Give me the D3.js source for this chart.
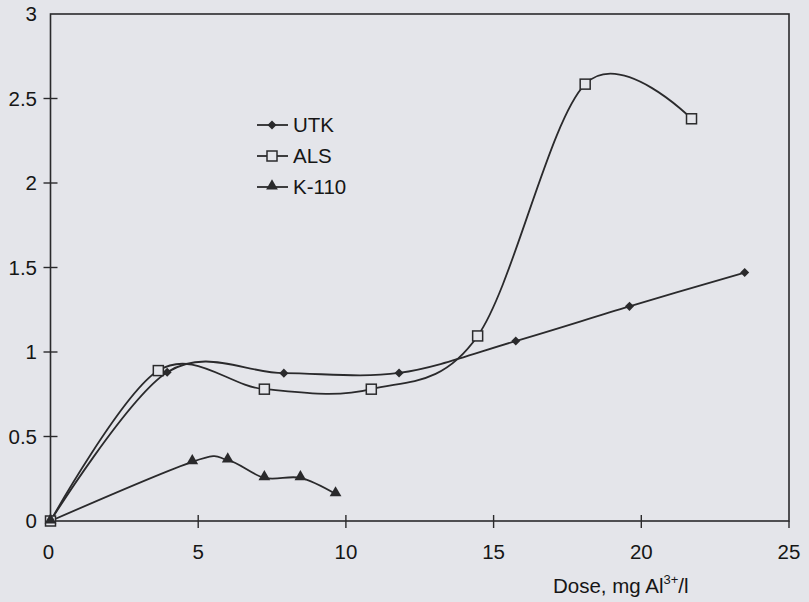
<!DOCTYPE html>
<html>
    <head>
        <meta charset="utf-8">
        <title>Dose chart</title>
        <script src="https://d3js.org/d3.v7.min.js"></script>
        <style>
            body {
                margin: 0;
                background-color: #e4e5ea;
            }
            text {
                font-family: "Liberation Sans", Arial, sans-serif;
                fill: #161616;
            }
        </style>
    </head>
    <body>
        <svg id="chart" width="809" height="602"></svg>

        <script>
            // values
            let utkDose = [0, 3.95, 7.9, 11.8, 15.75, 19.6, 23.5]
            let utkValue = [0, 0.88, 0.875, 0.876, 1.065, 1.27, 1.47]

            let alsDose = [0, 3.65, 7.24, 10.86, 14.46, 18.1, 21.7]
            let alsValue = [0, 0.89, 0.78, 0.78, 1.095, 2.585, 2.38]

            let k110Dose = [0, 4.8, 6.0, 7.24, 8.46, 9.65]
            let k110Value = [0, 0.35, 0.36, 0.255, 0.255, 0.16]

            let xTicks = [0, 5, 10, 15, 20, 25]
            let yTicks = [0, 0.5, 1, 1.5, 2, 2.5, 3]
            let seriesNames = ["UTK", "ALS", "K-110"]

            let ink = "#2a2a2c"
            let svg = d3.select("#chart")

            let x = d3.scaleLinear().domain([0, 25]).range([50.5, 789])
            let y = d3.scaleLinear().domain([0, 3]).range([521, 14])

            // frame
            svg.append("rect")
                .attr("x", x(0)).attr("y", y(3))
                .attr("width", x(25) - x(0)).attr("height", y(0) - y(3))
                .attr("fill", "none").attr("stroke", ink).attr("stroke-width", 1.6)

            // ticks crossing the axes
            svg.selectAll(".xtick").data(xTicks.slice(1, -1)).enter()
                .append("line")
                .attr("x1", d => x(d)).attr("x2", d => x(d))
                .attr("y1", y(0) - 6).attr("y2", y(0) + 7)
                .attr("stroke", ink).attr("stroke-width", 1.4)
            svg.selectAll(".ytick").data(yTicks.slice(1, -1)).enter()
                .append("line")
                .attr("x1", x(0) - 7).attr("x2", x(0) + 7)
                .attr("y1", d => y(d)).attr("y2", d => y(d))
                .attr("stroke", ink).attr("stroke-width", 1.4)
            svg.append("line")
                .attr("x1", x(25)).attr("x2", x(25))
                .attr("y1", y(0)).attr("y2", y(0) + 7)
                .attr("stroke", ink).attr("stroke-width", 1.4)

            svg.selectAll(".xlab").data(xTicks).enter()
                .append("text")
                .attr("x", d => x(d) - (d == 0 ? 2 : 0))
                .attr("y", 559)
                .attr("text-anchor", "middle")
                .attr("font-size", 20.5)
                .text(d => d)
            svg.selectAll(".ylab").data(yTicks).enter()
                .append("text")
                .attr("x", 37)
                .attr("y", d => y(d) + 7)
                .attr("text-anchor", "end")
                .attr("font-size", 20.5)
                .text(d => d)

            let title = svg.append("text")
                .attr("x", 553).attr("y", 593)
                .attr("font-size", 20.5)
            title.append("tspan").text("Dose, mg Al")
            title.append("tspan").attr("font-size", 13).attr("dy", -9).text("3+")
            title.append("tspan").attr("dy", 9).text("/l")

            let line = d3.line()
                .x(d => x(d[0])).y(d => y(d[1]))
                .curve(d3.curveCardinal.tension(0))

            let series = [
                d3.zip(utkDose, utkValue),
                d3.zip(alsDose, alsValue),
                d3.zip(k110Dose, k110Value)
            ]

            let g = svg.append("g")
            series.forEach(function (pts) {
                g.append("path")
                    .attr("d", line(pts))
                    .attr("fill", "none")
                    .attr("stroke", ink)
                    .attr("stroke-width", 1.8)
            })

            function marker(sel, i, cx, cy) {
                if (i == 0) {
                    sel.append("rect")
                        .attr("x", -3.2).attr("y", -3.2)
                        .attr("width", 6.4).attr("height", 6.4)
                        .attr("transform", "translate(" + cx + "," + cy + ") rotate(45)")
                        .attr("fill", ink)
                } else if (i == 1) {
                    sel.append("rect")
                        .attr("x", cx - 5).attr("y", cy - 5)
                        .attr("width", 10).attr("height", 10)
                        .attr("fill", "#e4e5ea").attr("stroke", ink).attr("stroke-width", 1.5)
                } else {
                    sel.append("path")
                        .attr("d", d3.symbol(d3.symbolTriangle, 60)())
                        .attr("transform", "translate(" + cx + "," + (cy - 1) + ")")
                        .attr("fill", ink)
                }
            }

            series.forEach(function (pts, i) {
                pts.forEach(p => marker(g, i, x(p[0]), y(p[1])))
            })

            // legend
            let legend = svg.append("g")
            seriesNames.forEach(function (name, i) {
                let ly = 125 + i * 31
                legend.append("line")
                    .attr("x1", 257).attr("x2", 288)
                    .attr("y1", ly).attr("y2", ly)
                    .attr("stroke", ink).attr("stroke-width", 1.8)
                marker(legend, i, 272, ly)
                legend.append("text")
                    .attr("x", 293).attr("y", ly + 7)
                    .attr("font-size", 20.5)
                    .text(name)
            })
        </script>
    </body>
</html>
